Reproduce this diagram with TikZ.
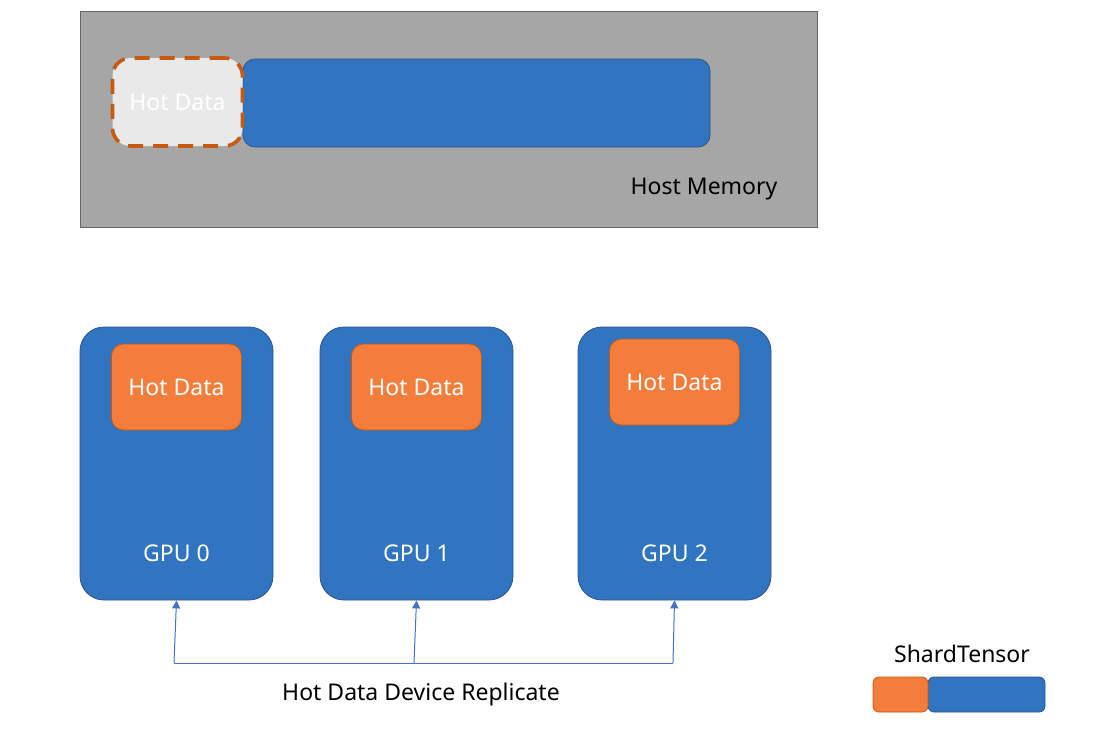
\documentclass[tikz,border=0pt]{standalone}
\usepackage{fontspec}
\setmainfont{Noto Sans}
\usetikzlibrary{arrows.meta}
\definecolor{devblue}{HTML}{3174C0}
\definecolor{devedge}{HTML}{2F528F}
\definecolor{hotorange}{HTML}{F47D3B}
\definecolor{hotedge}{HTML}{C55A11}
\definecolor{hostgray}{HTML}{A6A6A6}
\definecolor{cachegray}{HTML}{E9E9E9}
\definecolor{wireblue}{HTML}{4472C4}

\tikzset{
  lbl/.style={font=\fontsize{11.5}{13}\selectfont, inner sep=0pt},
  gpubox/.style={draw=devedge, fill=devblue, rounded corners=12pt, minimum width=96.5pt, minimum height=136.5pt, inner sep=0pt},
  hotbox/.style={draw=hotedge, fill=hotorange, rounded corners=6pt, minimum width=65pt, minimum height=43pt, inner sep=0pt, text=white, lbl},
  wire/.style={wireblue, line width=0.5pt},
}

\begin{document}
\begin{tikzpicture}[x=0.5pt,y=-0.5pt]
  \useasboundingbox (0,0) rectangle (1102,729);

  % host memory
  \node[draw=black!60, fill=hostgray, line width=0.4pt, minimum width=368.5pt, minimum height=108pt, inner sep=0pt] (host) at (448.5,119) {};
  \node[draw=devedge, fill=devblue, rounded corners=6pt, minimum width=233.5pt, minimum height=44pt, inner sep=0pt] (cold) at (476.5,103) {};
  \node[draw=hotedge, fill=cachegray, line width=1.8pt, dash pattern=on 7.5pt off 5pt, rounded corners=9pt, minimum width=65pt, minimum height=44pt, inner sep=0pt, text=white, lbl] (cache) at (177.5,102) {Hot Data};
  \node[lbl] (hostlbl) at (704,189) {Host Memory};

  % gpus
  \foreach \i/\x/\y in {0/176.5/387, 1/416.5/387, 2/674.5/382}{
    \node[gpubox] (gpu\i) at (\x,463.5) {};
    \node[hotbox] (hot\i) at (\x,\y) {Hot Data};
    \node[lbl, text=white] (name\i) at (\x,553) {GPU \i};
  }

  % replicate
  \coordinate (rep0) at (174,663);
  \coordinate (rep1) at (414,663);
  \coordinate (rep2) at (673,663);
  \draw[wire] (rep0) -- (rep2);
  \foreach \i in {0,1,2}
    \draw[wire, -{Triangle[length=4pt,width=4pt]}] (rep\i) -- (gpu\i.south);
  \node[lbl] (replbl) at (421,695) {Hot Data Device Replicate};

  % legend
  \node[lbl] (legend) at (962,654) {ShardTensor};
  \node[draw=devedge, fill=devblue, rounded corners=3pt, minimum width=58.5pt, minimum height=17.5pt, inner sep=0pt] (legcold) at (986.5,694.5) {};
  \node[draw=hotedge, fill=hotorange, rounded corners=3pt, minimum width=27.5pt, minimum height=17.5pt, inner sep=0pt] (leghot) at (900.5,694.5) {};
\end{tikzpicture}
\end{document}
